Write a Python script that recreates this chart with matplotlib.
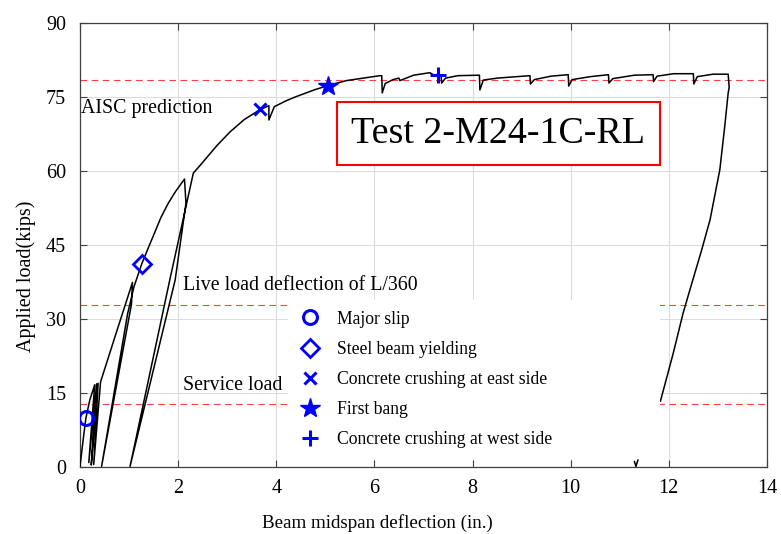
import matplotlib
matplotlib.use("Agg")
import matplotlib.pyplot as plt

plt.rcParams['font.family'] = ['Liberation Serif', 'DejaVu Serif']

# ---- data: load-deflection curve (in., kips) ----
deflection = [0.00, 0.06, 0.12, 0.20, 0.30, 0.18, 0.34, 0.23, 0.37, 0.28, 0.42,
              0.75, 1.07, 1.05, 0.44, 0.97, 1.10, 1.26, 1.40, 1.53, 1.65, 1.80, 1.95, 2.13,
              2.16, 1.94, 1.02, 1.83, 2.31, 2.45, 2.80, 3.06, 3.35, 3.67, 3.85,
              3.85, 3.96, 4.20, 4.42, 4.80, 5.06, 5.43, 5.77, 6.11, 6.15, 6.16,
              6.22, 6.38, 6.50, 6.52, 6.80, 7.13, 7.20, 7.30, 7.36, 7.37,
              7.45, 7.70, 8.14, 8.15, 8.22, 8.50, 8.90, 9.17, 9.18, 9.26,
              9.60, 9.95, 9.96, 10.03, 10.40, 10.77, 10.78, 10.86, 11.30, 11.68,
              11.69, 11.76, 12.10, 12.50, 12.51, 12.58, 12.90, 13.21, 13.23, 13.21,
              13.14, 13.04, 12.84, 12.67, 12.43, 12.29, 12.09, 11.83]
load = [0.0, 5.0, 9.8, 13.5, 16.6, 0.8, 16.8, 0.3, 16.9, 0.4, 17.2,
        27.5, 37.4, 33.0, 0.0, 31.0, 36.5, 41.2, 44.6, 47.7, 50.6, 53.5, 55.9, 58.4,
        53.5, 37.9, 0.0, 37.9, 59.6, 61.2, 65.3, 68.0, 70.5, 72.5, 73.3,
        70.4, 73.1, 74.3, 75.2, 76.6, 77.4, 78.4, 78.9, 79.4, 79.4, 75.9,
        77.8, 78.6, 78.9, 78.4, 79.5, 80.0, 79.6, 79.6, 79.4, 77.9,
        78.9, 79.4, 79.5, 76.5, 78.5, 78.9, 79.2, 79.4, 77.7, 78.6,
        79.3, 79.6, 77.3, 78.6, 79.2, 79.6, 77.9, 78.8, 79.5, 79.6,
        78.2, 79.3, 79.8, 79.8, 77.7, 79.2, 79.7, 79.7, 77.0, 75.9,
        69.1, 60.3, 50.1, 44.0, 35.9, 31.1, 23.0, 13.3]

# small stray trace near the x axis
stray_x = [11.30, 11.33, 11.37]
stray_y = [1.0, 0.0, 1.3]

# reference load levels (kips)
aisc_load = 78.6
live_load = 32.8
service_load = 12.7

# event markers
events = ["Major slip", "Steel beam yielding", "Concrete crushing at east side",
          "First bang", "Concrete crushing at west side"]
event_x = [0.12, 1.26, 3.67, 5.06, 7.30]
event_y = [9.8, 41.2, 72.6, 77.4, 79.6]

x_ticks = [0, 2, 4, 6, 8, 10, 12, 14]
y_ticks = [0, 15, 30, 45, 60, 75, 90]

# ---- figure ----
fig = plt.figure(figsize=(7.81, 5.34), dpi=100)
ax = fig.add_axes([0.1024, 0.1264, 0.8796, 0.8296])

ax.grid(True, color='#dcdcdc', linewidth=0.8)
ax.set_axisbelow(True)

for lvl in (aisc_load, live_load, service_load):
    ax.axhline(lvl, color='#ff4040', linestyle=(0, (6, 4)), linewidth=0.8, zorder=2)

ax.plot(deflection, load, color='black', linewidth=1.1, zorder=3)
ax.plot(stray_x, stray_y, color='black', linewidth=1.1, zorder=3)

mk = dict(color='blue', linestyle='none', zorder=5)
ax.plot(event_x[0], event_y[0], marker='o', markersize=10, markerfacecolor='none',
        markeredgewidth=2.2, label=events[0], **mk)
ax.plot(event_x[1], event_y[1], marker='D', markersize=9, markerfacecolor='none',
        markeredgewidth=2.0, label=events[1], **mk)
ax.plot(event_x[2], event_y[2], marker='x', markersize=8, markeredgewidth=2.2,
        label=events[2], **mk)
ax.plot(event_x[3], event_y[3], marker='*', markersize=15, markeredgewidth=1.0,
        label=events[3], **mk)
ax.plot(event_x[4], event_y[4], marker='+', markersize=11, markeredgewidth=2.2,
        label=events[4], **mk)

leg = ax.legend(loc='upper left', bbox_to_anchor=(0.3028, 0.376, 0.5415, 0.0),
                mode='expand', frameon=True, fancybox=False, framealpha=1.0,
                edgecolor='none', facecolor='white', fontsize=12.7,
                labelspacing=0.75, handletextpad=0.88, handlelength=1.3,
                borderpad=0.6, borderaxespad=0)
leg.set_zorder(4)

ax.text(0.03, 72.7, "AISC prediction", fontsize=14.3, va='center')
ax.text(2.10, 36.7, "Live load deflection of L/360", fontsize=14.3, va='center')
ax.text(2.10, 16.4, "Service load", fontsize=14.3, va='center')
ax.text(8.52, 67.6, "Test 2-M24-1C-RL", fontsize=27.4, ha='center', va='center',
        bbox=dict(boxstyle='square,pad=0.38', facecolor='white', edgecolor='red',
                  linewidth=1.5), zorder=6)

ax.set_xlim(0, 14)
ax.set_ylim(0, 90)
ax.set_xticks(x_ticks)
ax.set_yticks(y_ticks)
ax.tick_params(axis='x', pad=9)
ax.tick_params(axis='y', pad=10)
ax.tick_params(direction='in', length=5, labelsize=14.5, top=True, right=True,
               color='#404040')
for s in ax.spines.values():
    s.set_color('#404040')
    s.set_linewidth(0.9)

ax.set_xlabel("Beam midspan deflection (in.)", fontsize=13.7)
ax.set_ylabel("Applied load(kips)", fontsize=14.5)
ax.xaxis.set_label_coords(0.433, -0.107)
ax.yaxis.set_label_coords(-0.064, 0.43)

fig.savefig("out.png", dpi=100)
